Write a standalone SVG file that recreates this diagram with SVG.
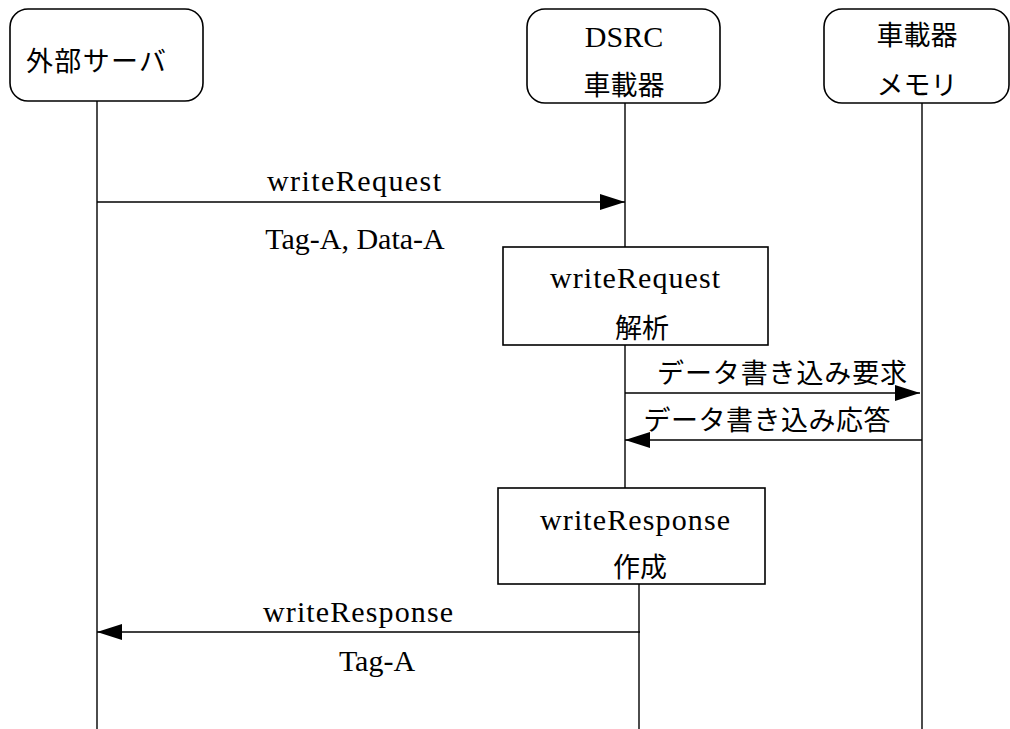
<svg xmlns="http://www.w3.org/2000/svg" width="1010" height="729" viewBox="0 0 1010 729">
<style>
.box{fill:#fff;stroke:#000;stroke-width:1.6}
.life{stroke:#000;stroke-width:1.4;fill:none}
.msg{stroke:#000;stroke-width:1.4;fill:none;marker-end:url(#ah)}
.se{font-family:"Liberation Serif",serif;font-size:30px;fill:#000;text-anchor:middle}
.jp{font-family:"Noto Sans CJK JP",sans-serif;font-size:27px;fill:#000;text-anchor:middle}
</style>
<defs>
<marker id="ah" markerUnits="userSpaceOnUse" markerWidth="25" markerHeight="16" refX="25" refY="8" orient="auto">
<path d="M0,0 L25,8 L0,16 z" fill="#000"/>
</marker>
</defs>
<rect width="1010" height="729" fill="#fff"/>
<g id="connectors">
<line class="life" x1="97" y1="101" x2="97" y2="729"/>
<line class="life" x1="625" y1="103" x2="625" y2="247"/>
<line class="life" x1="625" y1="345" x2="625" y2="488"/>
<line class="life" x1="639" y1="584" x2="639" y2="729"/>
<line class="life" x1="922" y1="103" x2="922" y2="729"/>
<line class="msg" x1="97" y1="202" x2="625" y2="202"/>
<text class="se" x="354" y="191" textLength="174">writeRequest</text>
<text class="se" x="355" y="249">Tag-A, Data-A</text>
<line class="msg" x1="625" y1="393" x2="920" y2="393"/>
<text class="jp" x="782" y="383" textLength="250">データ書き込み要求</text>
<line class="msg" x1="922" y1="440" x2="625" y2="440"/>
<text class="jp" x="767" y="430" textLength="247">データ書き込み応答</text>
<line class="msg" x1="640" y1="632" x2="97" y2="632"/>
<text class="se" x="358" y="622" textLength="190">writeResponse</text>
<text class="se" x="377" y="671">Tag-A</text>
</g>
<g id="server">
<rect class="box" x="10" y="9" width="193" height="92" rx="18"/>
<text class="jp" x="96" y="71" textLength="140">外部サーバ</text>
</g>
<g id="dsrc">
<rect class="box" x="527" y="9" width="193" height="94" rx="18"/>
<text class="se" x="624" y="47">DSRC</text>
<text class="jp" x="624" y="95">車載器</text>
</g>
<g id="memory">
<rect class="box" x="824" y="9" width="185" height="94" rx="18"/>
<text class="jp" x="917" y="45">車載器</text>
<text class="jp" x="917" y="95">メモリ</text>
</g>
<g id="analyze">
<rect class="box" x="503" y="247" width="265" height="98"/>
<text class="se" x="635" y="288" textLength="170">writeRequest</text>
<text class="jp" x="642" y="338">解析</text>
</g>
<g id="create">
<rect class="box" x="498" y="488" width="267" height="96"/>
<text class="se" x="635" y="530" textLength="190">writeResponse</text>
<text class="jp" x="640" y="577">作成</text>
</g>
</svg>
